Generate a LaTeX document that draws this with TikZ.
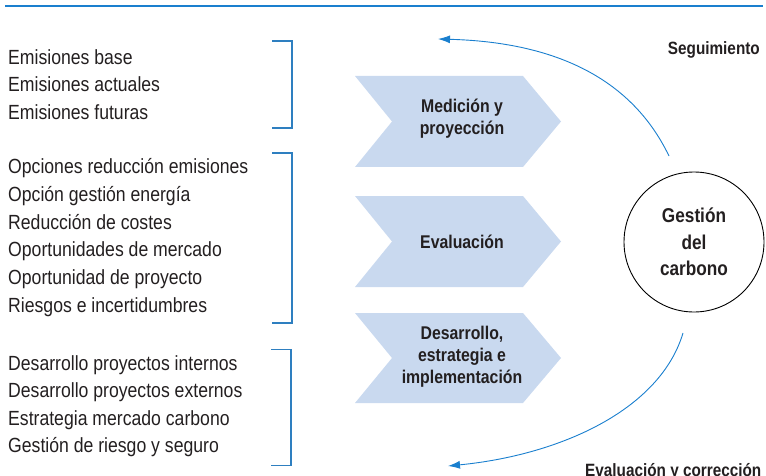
\documentclass[tikz,border=0pt]{standalone}
\usepackage{fontspec}
\setmainfont{Liberation Sans}[FakeStretch=0.86]
\usetikzlibrary{arrows.meta}
\definecolor{lineblue}{HTML}{1A7FCE}
\definecolor{brblue}{HTML}{2E7FC0}
\definecolor{chevfill}{HTML}{C9D9EF}
\definecolor{txt}{HTML}{231F20}
\tikzset{
  item/.style={anchor=base west, inner sep=0pt, text=txt, font=\fontsize{20.5}{22}\selectfont},
  chevlabel/.style={align=center, inner sep=0pt, text=txt, font=\fontsize{18.4}{22}\selectfont\bfseries},
  bracketline/.style={draw=brblue, line width=1.4pt},
  cyclearrow/.style={draw=lineblue, line width=0.9pt, -{Latex[length=12pt,width=8pt]}},
  chev/.style={fill=chevfill, draw=none},
  sidelabel/.style={inner sep=0pt, text=txt, font=\fontsize{17.8}{20}\selectfont\bfseries}
}
\begin{document}
\begin{tikzpicture}[x=1pt,y=-1pt]
\useasboundingbox (0,0) rectangle (766,476);
% top rule
\coordinate (tl) at (5,6);
\coordinate (tr) at (763,6);
\draw[draw=lineblue, line width=1.4pt] (tl) -- (tr);
% left texts
\foreach \t [count=\i] in {Emisiones base,Emisiones actuales,Emisiones futuras}
  \node[item] (a\i) at (8,{64.5+27.5*(\i-1)}) {\t};
\foreach \t [count=\i] in {Opciones reducción emisiones,Opción gestión energía,Reducción de costes,Oportunidades de mercado,Oportunidad de proyecto,Riesgos e incertidumbres}
  \node[item] (b\i) at (8,{174+27.6*(\i-1)}) {\t};
\foreach \t [count=\i] in {Desarrollo proyectos internos,Desarrollo proyectos externos,Estrategia mercado carbono,Gestión de riesgo y seguro}
  \node[item] (c\i) at (8,{370+27.6*(\i-1)}) {\t};
% brackets
\draw[bracketline] (272,41) -- (292,41) -- (292,128) -- (272,128);
\draw[bracketline] (272,153) -- (292,153) -- (292,323) -- (272,323);
\draw[bracketline] (271,349.5) -- (291,349.5) -- (291,465.5) -- (271,465.5);
% chevrons
\fill[chev] (355,76) -- (523,76) -- (561,121.5) -- (523,167) -- (355,167) -- (392,121.5) -- cycle;
\fill[chev] (355,196) -- (523,196) -- (561,241.5) -- (523,287) -- (355,287) -- (392,241.5) -- cycle;
\fill[chev] (355,313) -- (523,313) -- (561,358) -- (523,403) -- (355,403) -- (392,358) -- cycle;
\node[chevlabel] (m) at (462,119) {Medición y\\proyección};
\node[chevlabel] (e) at (462,241.5) {Evaluación};
\node[chevlabel] (d) at (462,357) {Desarrollo,\\estrategia e\\implementación};
% circle
\node[draw=black, line width=0.9pt, circle, minimum size=140pt, inner sep=0pt, align=center, text=txt,
      font=\fontsize{20}{26.5}\selectfont\bfseries] (g) at (694,242) {Gestión\\del\\carbono};
% cycle arrows
\coordinate (us) at (669,156);
\coordinate (ue) at (438,39);
\coordinate (ls) at (683,333);
\coordinate (le) at (448,466);
\draw[cyclearrow] (us) .. controls (630,75) and (550,42) .. (ue);
\draw[cyclearrow] (ls) .. controls (660,410) and (560,455) .. (le);
% side labels
\node[sidelabel, anchor=base east] (seg) at (760,55) {Seguimiento};
\node[sidelabel, anchor=base west] (evc) at (585,476) {Evaluación y corrección};
\end{tikzpicture}
\end{document}
